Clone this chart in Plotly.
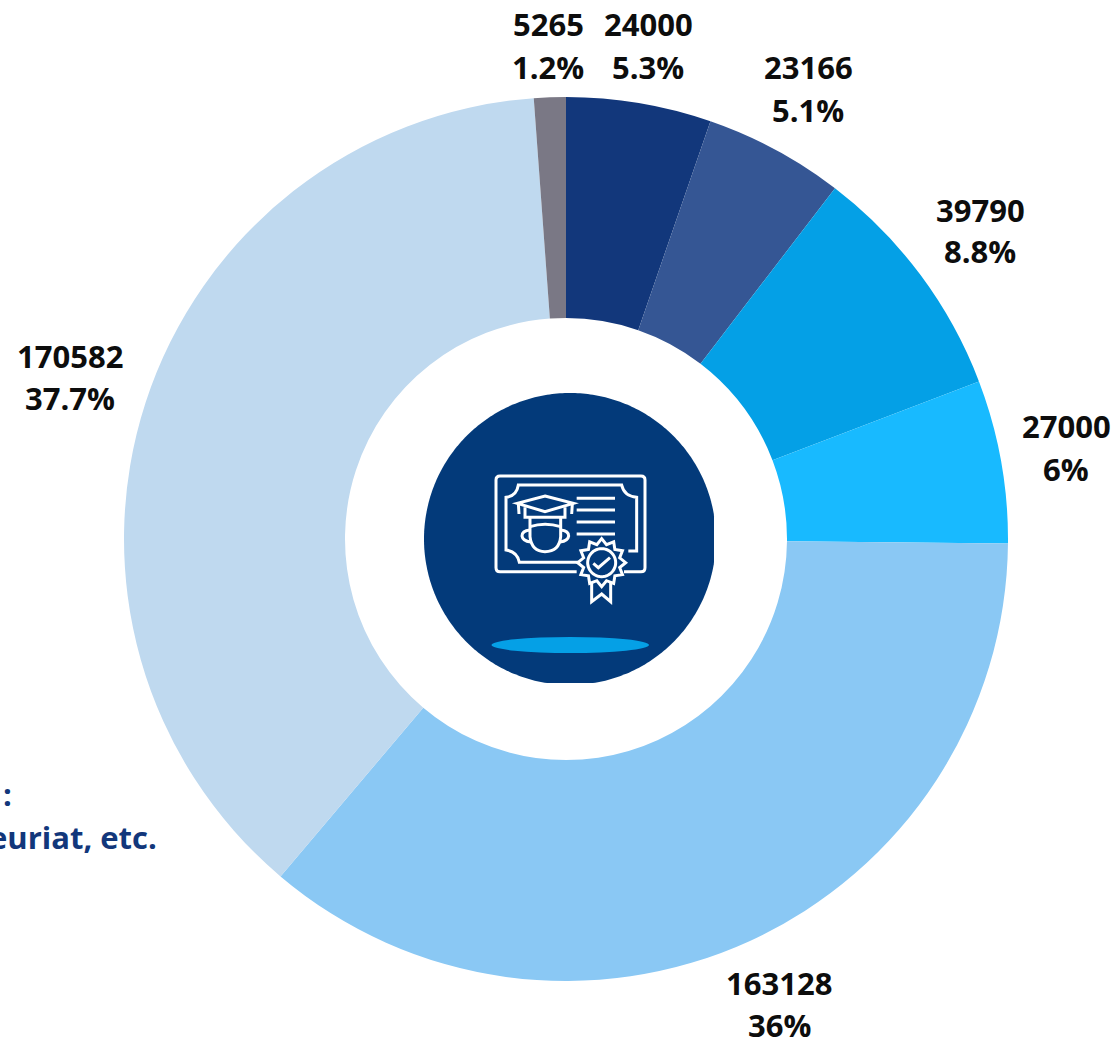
import numpy as np
import plotly.graph_objects as go

W, H = 1120, 1040

# ---- data ----
values = [24000, 23166, 39790, 27000, 163128, 170582, 5265]
percents = ["5.3%", "5.1%", "8.8%", "6%", "36%", "37.7%", "1.2%"]
colors = ["#12377B", "#355694", "#04A0E6", "#18BAFF", "#8AC8F4", "#BFD9EF", "#7A7885"]

# ---- label placement (page pixels: centre x, first-line y, second-line y) ----
label_pos = [(648, 24, 67), (808, 67, 110), (980, 210, 251), (1066, 426, 469),
             (779, 983, 1025), (70, 356, 398), (548, 24, 67)]

FONT = "Open Sans"
SIZE = 31
PIE_CX, PIE_CY, PIE_R = 566, 539, 442


def px(x):
    return x / W


def py(y):
    return 1 - y / H


fig = go.Figure(go.Pie(
    values=values,
    marker=dict(colors=colors, line=dict(width=0)),
    sort=False,
    direction="clockwise",
    rotation=0,
    hole=0.5,
    textinfo="none",
    showlegend=False,
    domain=dict(x=[px(PIE_CX - PIE_R), px(PIE_CX + PIE_R)],
                y=[py(PIE_CY + PIE_R), py(PIE_CY - PIE_R)]),
))

annotations = []


def add_text(text, x, y, color="#0D0D0D", anchor="center"):
    annotations.append(dict(text=text, x=px(x), y=py(y), xref="paper", yref="paper",
                            xanchor=anchor, yanchor="middle", showarrow=False,
                            font=dict(family=FONT, size=SIZE, color=color, weight="bold")))


for v, p, (x, y1, y2) in zip(values, percents, label_pos):
    add_text(str(v), x, y1)
    add_text(p, x, y2)

# Fragment of the cut-off caption at the left edge
add_text(":", 7, 794, color="#12377B", anchor="center")
add_text("euriat, etc.", 159, 837, color="#12377B", anchor="right")

# ---- centre badge ----
shapes = []


def path_shape(d, fill=None, line=None, width=0):
    s = dict(type="path", path=d, xref="paper", yref="paper", layer="above",
             line=dict(width=width, color=line or "rgba(0,0,0,0)"))
    if fill:
        s["fillcolor"] = fill
    shapes.append(s)


# Badge disc, cut by its image frame on the right and at the bottom
cx, cy, r = 570, 539, 146
clip_right, clip_bottom = 714, 683
t = np.linspace(0, 2 * np.pi, 361)
bx = np.minimum(cx + r * np.cos(t), clip_right)
by = np.minimum(cy + r * np.sin(t), clip_bottom)
path_shape("M " + " L ".join(f"{px(a):.5f},{py(b):.5f}" for a, b in zip(bx, by)) + " Z",
           fill="#033A7A")

# Blue ellipse
shapes.append(dict(type="circle", xref="paper", yref="paper", layer="above",
                   x0=px(491.5), x1=px(649), y0=py(653), y1=py(637),
                   fillcolor="#05A0E6", line=dict(width=0)))


def zx(x):
    return px(420 + x / 3)


def zy(y):
    return py(390 + y / 3)


def icon(cmds, width=3):
    """cmds: list of tuples such as ('M',x,y), ('L',x,y), ('Q',cx,cy,x,y), ('Z',) in crop coordinates"""
    parts = []
    for c in cmds:
        nums = c[1:]
        pts = [f"{zx(nums[i]):.5f},{zy(nums[i + 1]):.5f}" for i in range(0, len(nums), 2)]
        parts.append(c[0] + " " + " ".join(pts))
    path_shape(" ".join(parts), line="white", width=width)


# Outer certificate border
icon([("M", 470, 545), ("L", 240, 545), ("Q", 228, 545, 228, 533), ("L", 228, 270), ("Q", 228, 258, 240, 258),
      ("L", 663, 258), ("Q", 675, 258, 675, 270), ("L", 675, 533), ("Q", 675, 545, 663, 545), ("L", 612, 545)])
# Inner border with notched corners
icon([("M", 475, 517), ("L", 298, 517), ("Q", 292, 485, 258, 480), ("L", 258, 322), ("Q", 290, 318, 295, 285),
      ("L", 605, 285), ("Q", 612, 318, 650, 322), ("L", 650, 483), ("L", 625, 483)])
# Text lines
for ly in [325, 360, 396, 432]:
    icon([("M", 470, ly), ("L", 585, ly)])
# Mortarboard
icon([("M", 375, 318), ("L", 460, 340), ("L", 375, 365), ("L", 292, 340), ("Z",)])
icon([("M", 295, 340), ("L", 297, 372)])
icon([("M", 457, 340), ("L", 455, 372)])
icon([("M", 315, 352), ("L", 315, 382), ("L", 435, 382), ("L", 435, 352)])
# Head and ears
icon([("M", 330, 382), ("L", 330, 440), ("Q", 335, 485, 375, 485), ("Q", 418, 485, 422, 440), ("L", 422, 382)])
icon([("M", 330, 410), ("Q", 375, 395, 422, 410)])
icon([("M", 330, 420), ("Q", 306, 422, 306, 438), ("Q", 308, 453, 332, 456)])
icon([("M", 422, 420), ("Q", 446, 422, 446, 438), ("Q", 444, 453, 420, 456)])
# Seal
sx, sy = 545, 518
ang = np.linspace(0, 2 * np.pi, 24, endpoint=False) - np.pi / 2
rad = np.where(np.arange(24) % 2 == 0, 72, 56)
star = [("M" if i == 0 else "L", sx + rad[i] * np.cos(ang[i]), sy + rad[i] * np.sin(ang[i])) for i in range(24)]
icon(star + [("Z",)])
ang2 = np.linspace(0, 2 * np.pi, 48, endpoint=False)
ring = [("M" if i == 0 else "L", sx + 42 * np.cos(ang2[i]), sy + 42 * np.sin(ang2[i])) for i in range(48)]
icon(ring + [("Z",)])
icon([("M", 520, 520), ("L", 535, 533), ("L", 570, 503)])
icon([("M", 515, 578), ("L", 515, 635), ("L", 545, 612), ("L", 572, 635), ("L", 572, 578)])

fig.update_layout(
    width=W, height=H,
    margin=dict(l=0, r=0, t=0, b=0),
    paper_bgcolor="white",
    plot_bgcolor="white",
    annotations=annotations,
    shapes=shapes,
)

fig.write_html("out.html", config={"displayModeBar": False},
               post_script="document.body.style.margin='0';")
